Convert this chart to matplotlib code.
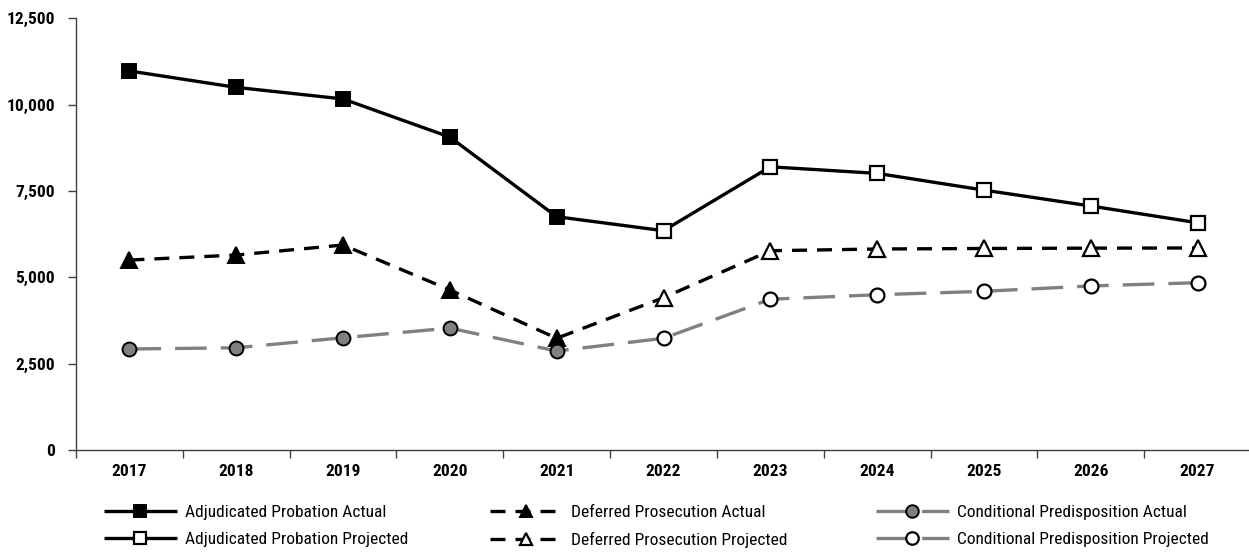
import matplotlib
matplotlib.use("Agg")
import matplotlib.pyplot as plt
from matplotlib import font_manager as fm
from matplotlib.lines import Line2D
from matplotlib.ticker import FuncFormatter, FixedLocator, NullFormatter

years = ["2017", "2018", "2019", "2020", "2021", "2022", "2023", "2024", "2025", "2026", "2027"]
n_actual = 5  # 2017-2021 actual, 2022-2027 projected

adjudicated = [10975, 10500, 10165, 9060, 6755, 6350, 8200, 8010, 7525, 7065, 6580]
deferred = [5500, 5645, 5935, 4635, 3235, 4410, 5770, 5820, 5835, 5845, 5850]
conditional = [2925, 2960, 3250, 3530, 2865, 3235, 4365, 4495, 4595, 4750, 4845]

labels_actual = ["Adjudicated Probation Actual", "Deferred Prosecution Actual", "Conditional Predisposition Actual"]
labels_proj = ["Adjudicated Probation Projected", "Deferred Prosecution Projected", "Conditional Predisposition Projected"]


# ---- pick a condensed font if one is installed ----
def _is_condensed(f):
    st = f.stretch
    if isinstance(st, str):
        if "condensed" in st.lower():
            return True
        try:
            st = int(st)
        except ValueError:
            st = 500
    if isinstance(st, (int, float)) and st < 500:
        return True
    nm = f.name.lower()
    fn = f.fname.lower()
    return ("condensed" in nm or "narrow" in nm or "condensed" in fn or "narrow" in fn)


def _wnum(w):
    if isinstance(w, (int, float)):
        return w
    table = {"normal": 400, "regular": 400, "book": 400, "medium": 500, "semibold": 600,
             "demibold": 600, "bold": 700, "heavy": 800, "black": 900, "light": 300}
    return table.get(str(w).lower(), 400)


cands = [f for f in fm.fontManager.ttflist if _is_condensed(f) and not f.style == "italic"]
pref = ["liberation sans narrow", "roboto condensed", "open sans condensed", "dejavu sans",
        "noto sans", "lato", "inter"]


def _rank(f):
    nm = f.name.lower()
    for i, p in enumerate(pref):
        if nm.startswith(p):
            return i
    return len(pref)


if cands:
    cands.sort(key=_rank)
    fam = cands[0].name
    same = [f for f in cands if f.name == fam and "extra" not in f.fname.lower()]
    regs = sorted(same, key=lambda f: abs(_wnum(f.weight) - 450))
    bolds = sorted(same, key=lambda f: abs(_wnum(f.weight) - 700))
    reg_fp = fm.FontProperties(fname=regs[0].fname)
    bold_fp = fm.FontProperties(fname=bolds[0].fname)
    fsize = 12.5
else:
    reg_fp = fm.FontProperties(family="DejaVu Sans")
    bold_fp = fm.FontProperties(family="DejaVu Sans", weight="bold")
    fsize = 10.5

W, H = 1249, 559
fig = plt.figure(figsize=(W / 100, H / 100), dpi=100)
ax = fig.add_axes([76 / W, 1 - 450 / H, 1175 / W, (450 - 18.3) / H])

x = list(range(len(years)))
xa = x[:n_actual]
xp = x[n_actual:]

styles = [
    dict(color="black", dashes=None, marker="s", ms=10, lms=9, lw=2.4, face="black"),
    dict(color="black", dashes=(4.5, 3.0), marker="^", ms=11, lms=9, lw=2.4, face="black"),
    dict(color="#808080", dashes=(9.5, 4.2), marker="o", ms=10, lms=9, lw=2.4, face="#808080"),
]
series = [adjudicated, deferred, conditional]

handles = []
for vals, st, la, lp in zip(series, styles, labels_actual, labels_proj):
    kw = dict(color=st["color"], lw=st["lw"], solid_capstyle="butt", dash_capstyle="butt")
    if st["dashes"] is not None:
        kw["ls"] = "--"
        kw["dashes"] = st["dashes"]
    ax.plot(x, vals, zorder=2, **kw)
    ax.plot(xa, vals[:n_actual], ls="none", marker=st["marker"], ms=st["ms"],
            mfc=st["face"], mec="black", mew=1.4, zorder=3)
    ax.plot(xp, vals[n_actual:], ls="none", marker=st["marker"], ms=st["ms"],
            mfc="white", mec="black", mew=1.6, zorder=3)
    ha = Line2D([], [], marker=st["marker"], ms=st["lms"], mfc=st["face"], mec="black", mew=1.4, **kw)
    hp = Line2D([], [], marker=st["marker"], ms=st["lms"], mfc="white", mec="black", mew=1.6, **kw)
    handles.append((ha, la, hp, lp))

ax.set_xlim(-0.5, len(years) - 0.5)
ax.set_ylim(0, 12500)
ax.set_yticks([0, 2500, 5000, 7500, 10000, 12500])
ax.yaxis.set_major_formatter(FuncFormatter(lambda v, p: f"{int(v):,}"))
ax.set_xticks(x)
ax.set_xticklabels(years)
ax.xaxis.set_minor_locator(FixedLocator([i - 0.5 for i in range(len(years) + 1)]))
ax.xaxis.set_minor_formatter(NullFormatter())

ax.tick_params(axis="x", which="major", length=0, pad=10)
ax.tick_params(axis="x", which="minor", length=6, width=1, color="#404040", direction="out")
ax.tick_params(axis="y", which="major", length=6, width=1, color="#404040", pad=9)
for lab in ax.get_xticklabels() + ax.get_yticklabels():
    lab.set_fontproperties(bold_fp)
    lab.set_fontsize(fsize)

for s in ["top", "right"]:
    ax.spines[s].set_visible(False)
for s in ["left", "bottom"]:
    ax.spines[s].set_color("#404040")
    ax.spines[s].set_linewidth(1.0)

leg_prop = reg_fp.copy()
leg_prop.set_size(fsize)
col_x = [104, 490, 876]
for (ha, la, hp, lp), cx in zip(handles, col_x):
    lg = fig.legend([ha, hp], [la, lp], loc="upper left", bbox_to_anchor=(cx / W, 1 - 505 / H),
                    ncol=1, frameon=False, borderpad=0, borderaxespad=0, handlelength=4.2,
                    handletextpad=0.45, labelspacing=0.68, prop=leg_prop)

fig.savefig("out.png", dpi=100)
